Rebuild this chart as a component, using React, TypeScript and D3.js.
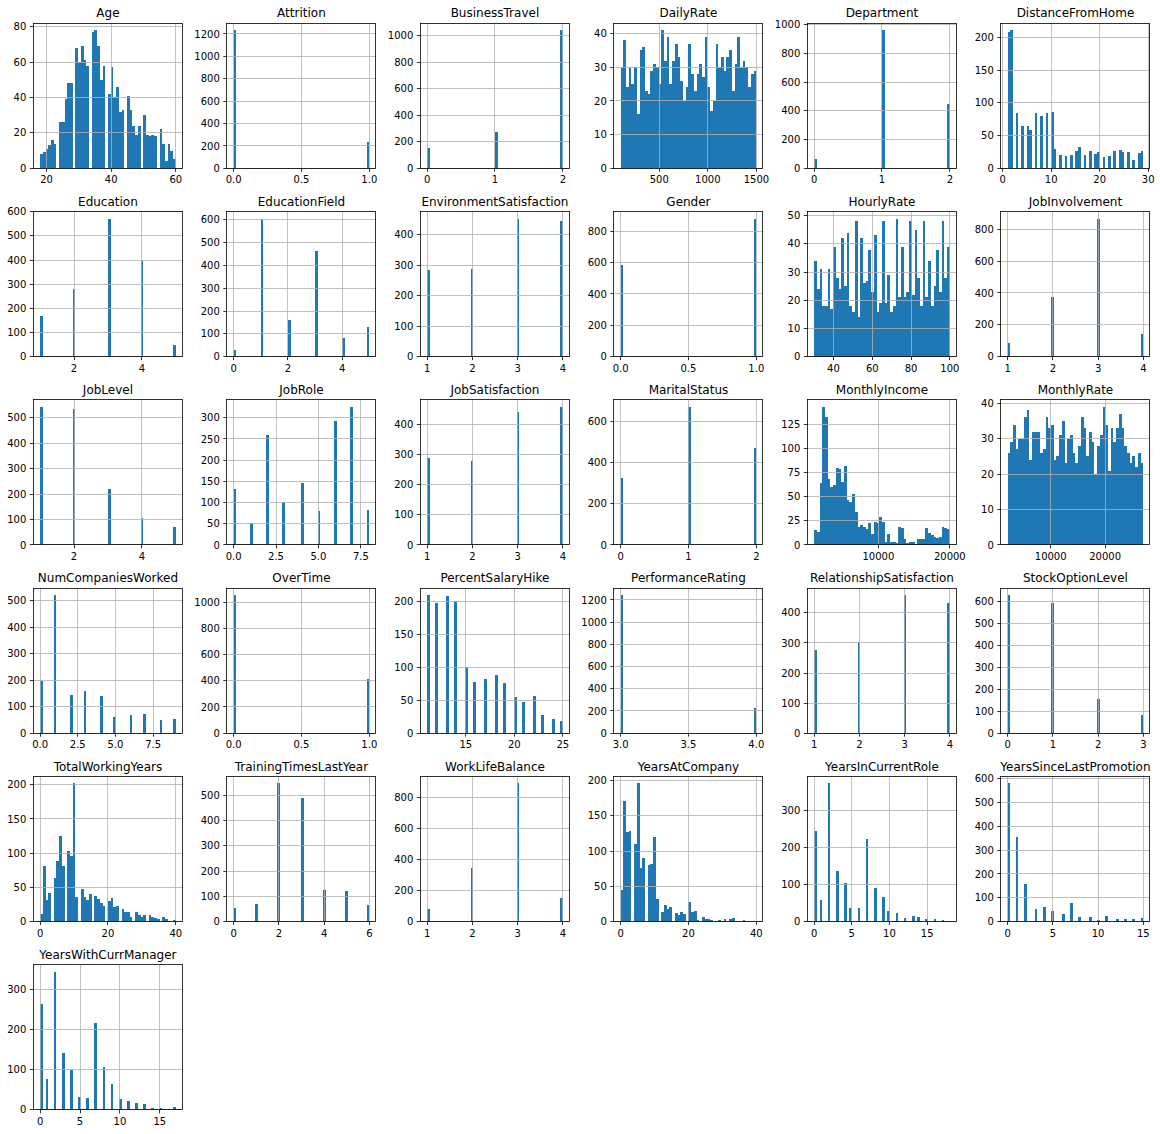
import React from 'react';
import * as d3 from 'd3';

// ---------- data: discrete variables (value -> count) ----------
const ageValues = [18,19,20,21,22,23,24,25,26,27,28,29,30,31,32,33,34,35,36,37,38,39,40,41,42,43,44,45,46,47,48,49,50,51,52,53,54,55,56,57,58,59,60];
const ageCounts = [8,9,11,13,16,14,26,26,39,48,48,68,60,69,61,58,77,78,69,50,58,42,57,40,46,32,33,41,33,24,19,24,30,19,18,19,18,22,14,4,14,10,5];

const attritionValues = [0, 1];
const attritionCounts = [1233, 237];
const businessTravelValues = [0, 1, 2];
const businessTravelCounts = [150, 277, 1043];
const departmentValues = [0, 1, 2];
const departmentCounts = [63, 961, 446];
const distanceValues = [1,2,3,4,5,6,7,8,9,10,11,12,13,14,15,16,17,18,19,20,21,22,23,24,25,26,27,28,29];
const distanceCounts = [208,211,84,64,65,59,84,80,85,86,29,20,19,21,26,32,20,26,22,25,18,19,27,28,25,25,12,23,27];
const educationValues = [1, 2, 3, 4, 5];
const educationCounts = [170, 282, 572, 398, 48];
const educationFieldValues = [0, 1, 2, 3, 4, 5];
const educationFieldCounts = [27, 606, 159, 464, 82, 132];
const envSatValues = [1, 2, 3, 4];
const envSatCounts = [284, 287, 453, 446];
const genderValues = [0, 1];
const genderCounts = [588, 882];
const jobInvolvementValues = [1, 2, 3, 4];
const jobInvolvementCounts = [83, 375, 868, 144];
const jobLevelValues = [1, 2, 3, 4, 5];
const jobLevelCounts = [543, 534, 218, 106, 69];
const jobRoleValues = [0, 1, 2, 3, 4, 5, 6, 7, 8];
const jobRoleCounts = [131, 52, 259, 102, 145, 80, 292, 326, 83];
const jobSatValues = [1, 2, 3, 4];
const jobSatCounts = [289, 280, 442, 459];
const maritalValues = [0, 1, 2];
const maritalCounts = [327, 673, 470];
const numCompaniesValues = [0, 1, 2, 3, 4, 5, 6, 7, 8, 9];
const numCompaniesCounts = [197, 521, 146, 159, 139, 63, 70, 74, 49, 52];
const overTimeValues = [0, 1];
const overTimeCounts = [1054, 416];
const salaryHikeValues = [11,12,13,14,15,16,17,18,19,20,21,22,23,24,25];
const salaryHikeCounts = [210,198,209,201,101,78,82,89,76,55,48,56,28,21,18];
const perfValues = [3, 4];
const perfCounts = [1244, 226];
const relSatValues = [1, 2, 3, 4];
const relSatCounts = [276, 303, 459, 432];
const stockValues = [0, 1, 2, 3];
const stockCounts = [631, 596, 158, 85];
const totalYearsValues = [0,1,2,3,4,5,6,7,8,9,10,11,12,13,14,15,16,17,18,19,20,21,22,23,24,25,26,27,28,29,30,31,32,33,34,35,36,37,38,40];
const totalYearsCounts = [11,81,31,42,63,88,125,81,103,96,202,36,48,36,31,40,37,33,27,22,30,34,21,22,18,14,14,7,14,10,7,9,9,7,5,3,6,4,1,2];
const trainingValues = [0, 1, 2, 3, 4, 5, 6];
const trainingCounts = [54, 71, 547, 491, 123, 119, 65];
const wlbValues = [1, 2, 3, 4];
const wlbCounts = [80, 344, 893, 153];
const yearsCompanyValues = [0,1,2,3,4,5,6,7,8,9,10,11,12,13,14,15,16,17,18,19,20,21,22,23,24,25,26,27,29,30,31,32,33,34,36,37,40];
const yearsCompanyCounts = [44,171,127,128,110,196,76,90,80,82,120,32,14,24,18,20,12,9,13,11,27,14,15,2,6,4,4,2,2,1,3,3,5,1,2,1,1];
const yearsRoleValues = [0,1,2,3,4,5,6,7,8,9,10,11,12,13,14,15,16,17,18];
const yearsRoleCounts = [244,57,372,135,104,36,37,222,89,67,29,22,10,14,11,8,7,4,2];
const yearsPromoValues = [0,1,2,3,4,5,6,7,8,9,10,11,12,13,14,15];
const yearsPromoCounts = [581,357,159,52,61,45,32,76,18,17,6,24,10,10,9,13];
const yearsMgrValues = [0,1,2,3,4,5,6,7,8,9,10,11,12,13,14,15,16,17];
const yearsMgrCounts = [263,76,344,142,98,31,29,216,107,64,27,22,18,14,5,5,2,7];

// ---------- data: continuous variables (range + 50 bin counts) ----------
const dailyRateRange = [102, 1499];
const dailyRateBins = [30,38,24,30,25,30,16,35,36,23,22,29,31,30,25,41,32,39,25,32,37,33,26,20,24,37,28,23,28,31,27,39,24,17,20,37,30,33,29,33,35,23,31,39,30,32,30,24,28,29];
const hourlyRateRange = [30, 100];
const hourlyRateBins = [34,24,31,18,18,31,17,39,28,24,42,25,44,18,16,48,14,42,26,27,38,23,43,16,19,48,19,29,16,18,49,21,39,21,23,48,22,45,28,18,48,21,34,18,25,38,23,48,28,39];
const monthlyIncomeRange = [1009, 19999];
const monthlyIncomeBins = [15,13,64,143,132,68,60,62,80,79,65,82,46,44,53,34,19,21,19,16,23,11,24,23,29,24,3,11,3,3,2,19,18,6,2,3,3,1,6,6,6,17,12,10,8,7,8,19,17,16];
const monthlyRateRange = [2094, 26999];
const monthlyRateBins = [26,29,34,27,30,30,36,38,24,32,32,32,26,27,36,33,34,24,25,31,35,23,30,31,26,23,28,36,33,25,32,29,20,28,31,39,34,21,33,29,33,37,33,28,26,23,25,22,26,23];

// ---------- tick labels ----------
const tx01 = [0, 0.5, 1];
const tx012 = [0, 1, 2];
const tx1234 = [1, 2, 3, 4];
const tx0123 = [0, 1, 2, 3];
const tx24 = [2, 4];
const tx024 = [0, 2, 4];
const tx0246 = [0, 2, 4, 6];
const tx0to75 = [0, 2.5, 5, 7.5];
const tx0to15 = [0, 5, 10, 15];
const tx0to40 = [0, 20, 40];
const txAge = [20, 40, 60];
const txDaily = [500, 1000, 1500];
const txDistance = [0, 10, 20, 30];
const txHourly = [40, 60, 80, 100];
const txMonthly = [10000, 20000];
const txHike = [15, 20, 25];
const txPerf = [3, 3.5, 4];

const ty20 = [0, 20, 40, 60, 80];
const ty10 = [0, 10, 20, 30, 40, 50];
const ty25 = [0, 25, 50, 75, 100, 125];
const ty50 = [0, 50, 100, 150, 200, 250, 300];
const ty100 = [0, 100, 200, 300, 400, 500, 600];
const ty200 = [0, 200, 400, 600, 800, 1000, 1200];

// ---------- table of panels (built from the arrays above) ----------
const panels: any[] = [
  { name: 'Age', values: ageValues, counts: ageCounts, xt: txAge, yt: ty20 },
  { name: 'Attrition', values: attritionValues, counts: attritionCounts, xt: tx01, yt: ty200 },
  { name: 'BusinessTravel', values: businessTravelValues, counts: businessTravelCounts, xt: tx012, yt: ty200 },
  { name: 'DailyRate', range: dailyRateRange, bins: dailyRateBins, xt: txDaily, yt: ty10 },
  { name: 'Department', values: departmentValues, counts: departmentCounts, xt: tx012, yt: ty200 },
  { name: 'DistanceFromHome', values: distanceValues, counts: distanceCounts, xt: txDistance, yt: ty50 },
  { name: 'Education', values: educationValues, counts: educationCounts, xt: tx24, yt: ty100 },
  { name: 'EducationField', values: educationFieldValues, counts: educationFieldCounts, xt: tx024, yt: ty100 },
  { name: 'EnvironmentSatisfaction', values: envSatValues, counts: envSatCounts, xt: tx1234, yt: ty100 },
  { name: 'Gender', values: genderValues, counts: genderCounts, xt: tx01, yt: ty200 },
  { name: 'HourlyRate', range: hourlyRateRange, bins: hourlyRateBins, xt: txHourly, yt: ty10 },
  { name: 'JobInvolvement', values: jobInvolvementValues, counts: jobInvolvementCounts, xt: tx1234, yt: ty200 },
  { name: 'JobLevel', values: jobLevelValues, counts: jobLevelCounts, xt: tx24, yt: ty100 },
  { name: 'JobRole', values: jobRoleValues, counts: jobRoleCounts, xt: tx0to75, yt: ty50 },
  { name: 'JobSatisfaction', values: jobSatValues, counts: jobSatCounts, xt: tx1234, yt: ty100 },
  { name: 'MaritalStatus', values: maritalValues, counts: maritalCounts, xt: tx012, yt: ty200 },
  { name: 'MonthlyIncome', range: monthlyIncomeRange, bins: monthlyIncomeBins, xt: txMonthly, yt: ty25 },
  { name: 'MonthlyRate', range: monthlyRateRange, bins: monthlyRateBins, xt: txMonthly, yt: ty10 },
  { name: 'NumCompaniesWorked', values: numCompaniesValues, counts: numCompaniesCounts, xt: tx0to75, yt: ty100 },
  { name: 'OverTime', values: overTimeValues, counts: overTimeCounts, xt: tx01, yt: ty200 },
  { name: 'PercentSalaryHike', values: salaryHikeValues, counts: salaryHikeCounts, xt: txHike, yt: ty50 },
  { name: 'PerformanceRating', values: perfValues, counts: perfCounts, xt: txPerf, yt: ty200 },
  { name: 'RelationshipSatisfaction', values: relSatValues, counts: relSatCounts, xt: tx1234, yt: ty100 },
  { name: 'StockOptionLevel', values: stockValues, counts: stockCounts, xt: tx0123, yt: ty100 },
  { name: 'TotalWorkingYears', values: totalYearsValues, counts: totalYearsCounts, xt: tx0to40, yt: ty50 },
  { name: 'TrainingTimesLastYear', values: trainingValues, counts: trainingCounts, xt: tx0246, yt: ty100 },
  { name: 'WorkLifeBalance', values: wlbValues, counts: wlbCounts, xt: tx1234, yt: ty200 },
  { name: 'YearsAtCompany', values: yearsCompanyValues, counts: yearsCompanyCounts, xt: tx0to40, yt: ty50 },
  { name: 'YearsInCurrentRole', values: yearsRoleValues, counts: yearsRoleCounts, xt: tx0to15, yt: ty100 },
  { name: 'YearsSinceLastPromotion', values: yearsPromoValues, counts: yearsPromoCounts, xt: tx0to15, yt: ty100 },
  { name: 'YearsWithCurrManager', values: yearsMgrValues, counts: yearsMgrCounts, xt: tx0to15, yt: ty100 },
];

// ---------- layout ----------
const WIDTH = 1160;
const HEIGHT = 1134;
const NBINS = 50;
const AX_LEFT0 = 33.3;
const COL_STEP = 193.5;
const AX_W = 149.3;
const AX_BOTTOM0 = 168.3;
const ROW_STEP = 188.3;
const AX_H = 145;
const BAR_COLOR = '#1f77b4';
const GRID_COLOR = '#b0b0b0';
const FONT = '"DejaVu Sans", Verdana, sans-serif';

const snap = (v: number) => Math.round(v - 0.5) + 0.5;

function histogram(p: any) {
  if (p.bins) return { lo: p.range[0], hi: p.range[1], counts: p.bins as number[] };
  const lo = d3.min(p.values as number[]) as number;
  const hi = d3.max(p.values as number[]) as number;
  const counts = new Array(NBINS).fill(0);
  (p.values as number[]).forEach((v, i) => {
    let k = Math.floor(((v - lo) * NBINS) / (hi - lo));
    if (k > NBINS - 1) k = NBINS - 1;
    counts[k] += p.counts[i];
  });
  return { lo, hi, counts };
}

function fmt(ticks: number[]) {
  const frac = ticks.some((t) => !Number.isInteger(t));
  return (t: number) => (frac ? t.toFixed(1) : String(t));
}

function Panel({ p, index }: { p: any; index: number }) {
  const col = index % 6;
  const row = Math.floor(index / 6);
  const left = AX_LEFT0 + col * COL_STEP;
  const right = left + AX_W;
  const bottom = AX_BOTTOM0 + row * ROW_STEP;
  const top = bottom - AX_H;
  const { lo, hi, counts } = histogram(p);
  const R = hi - lo;
  const x = d3.scaleLinear().domain([lo - 0.05 * R, hi + 0.05 * R]).range([left, right]);
  const ymax = (d3.max(counts) as number) * 1.05;
  const y = d3.scaleLinear().domain([0, ymax]).range([bottom, top]);
  const edges = d3.range(NBINS + 1).map((i) => lo + (R * i) / NBINS);
  const xt = (p.xt as number[]).filter((t) => t >= x.domain()[0] && t <= x.domain()[1]);
  const yt = (p.yt as number[]).filter((t) => t <= ymax);
  const fx = fmt(p.xt);
  const fy = fmt(p.yt);
  return (
    <g>
      <g shapeRendering="crispEdges">
        {counts.map((c: number, k: number) =>
          c > 0 ? (
            <rect
              key={k}
              x={x(edges[k])}
              width={x(edges[k + 1]) - x(edges[k])}
              y={y(c)}
              height={bottom - y(c)}
              fill={BAR_COLOR}
            />
          ) : null
        )}
      </g>
      {xt.map((t) => (
        <line key={'gx' + t} x1={snap(x(t))} x2={snap(x(t))} y1={top} y2={bottom} stroke={GRID_COLOR} strokeWidth={0.8} />
      ))}
      {yt.map((t) => (
        <line key={'gy' + t} x1={left} x2={right} y1={snap(y(t))} y2={snap(y(t))} stroke={GRID_COLOR} strokeWidth={0.8} />
      ))}
      <rect x={snap(left)} y={snap(top)} width={Math.round(right - left)} height={Math.round(bottom - top)} fill="none" stroke="#000" strokeWidth={0.8} />
      {xt.map((t) => (
        <g key={'tx' + t}>
          <line x1={snap(x(t))} x2={snap(x(t))} y1={bottom} y2={bottom + 3.5} stroke="#000" strokeWidth={0.8} />
          <text x={x(t)} y={bottom + 15} textAnchor="middle" fontSize={10} fontFamily={FONT} fill="#000">
            {fx(t)}
          </text>
        </g>
      ))}
      {yt.map((t) => (
        <g key={'ty' + t}>
          <line x1={left - 3.5} x2={left} y1={snap(y(t))} y2={snap(y(t))} stroke="#000" strokeWidth={0.8} />
          <text x={left - 7} y={y(t) + 3.6} textAnchor="end" fontSize={10} fontFamily={FONT} fill="#000">
            {fy(t)}
          </text>
        </g>
      ))}
      <text x={(left + right) / 2} y={top - 6} textAnchor="middle" fontSize={12} fontFamily={FONT} fill="#000">
        {p.name}
      </text>
    </g>
  );
}

export default function App() {
  return (
    <svg
      width={WIDTH}
      height={HEIGHT}
      viewBox={`0 0 ${WIDTH} ${HEIGHT}`}
      style={{ position: 'absolute', left: 0, top: 0, background: '#fff' }}
    >
      <rect x={0} y={0} width={WIDTH} height={HEIGHT} fill="#fff" />
      {panels.map((p, i) => (
        <Panel key={p.name} p={p} index={i} />
      ))}
    </svg>
  );
}
